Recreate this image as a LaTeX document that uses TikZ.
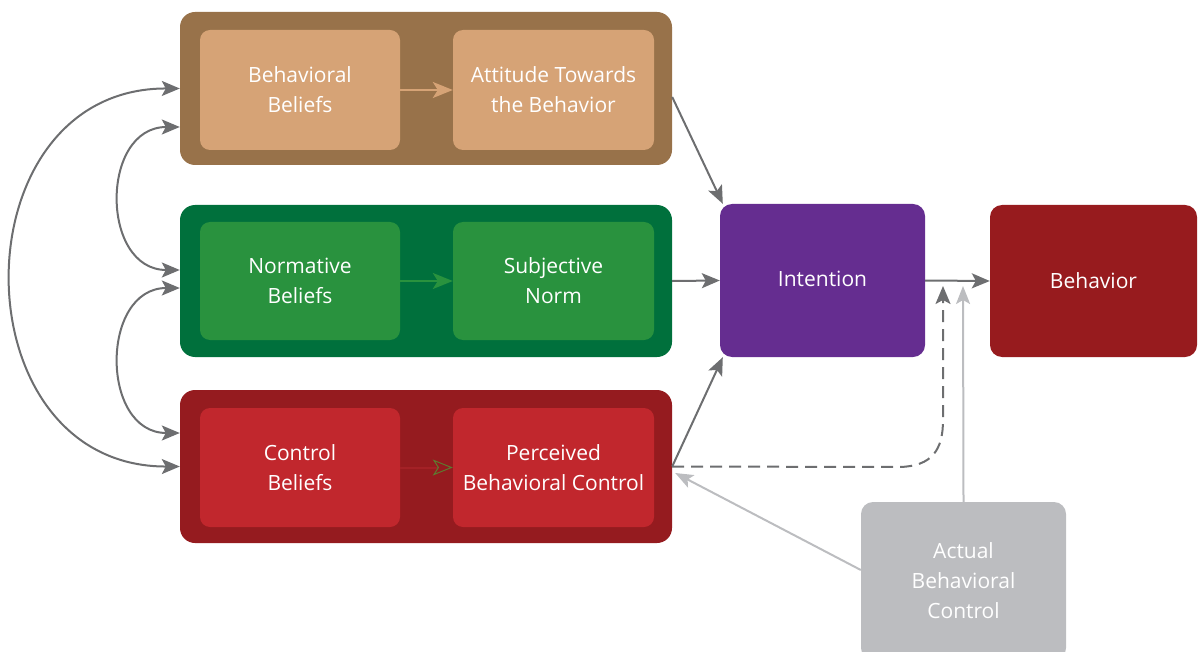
\documentclass[tikz,border=0pt]{standalone}
\usepackage{fontspec}
\setmainfont{Open Sans}
\usetikzlibrary{arrows.meta}
\definecolor{brownO}{HTML}{98724A}
\definecolor{brownI}{HTML}{D6A376}
\definecolor{greenO}{HTML}{00703C}
\definecolor{greenI}{HTML}{29923E}
\definecolor{redO}{HTML}{951B1F}
\definecolor{redI}{HTML}{C1272D}
\definecolor{purp}{HTML}{652D90}
\definecolor{behc}{HTML}{971B1E}
\definecolor{grayB}{HTML}{BCBDC0}
\definecolor{arr}{HTML}{6D6E70}
\definecolor{olivetip}{HTML}{5E7A30}
\tikzset{
  outerbox/.style={rounded corners=15pt, minimum width=492pt, minimum height=153pt, inner sep=0pt},
  innerbox/.style={rounded corners=10pt, minimum width=201pt, minimum height=120pt, inner sep=0pt,
    text=white, align=center, font=\fontsize{21}{30}\selectfont},
  bigbox/.style={rounded corners=12pt, minimum width=205pt, minimum height=153pt, inner sep=0pt,
    text=white, align=center, font=\fontsize{21}{30}\selectfont},
  conn/.style={draw=arr, line width=2pt, -{Stealth[length=18pt,width=15pt,inset=4pt]}},
  biconn/.style={draw=arr, line width=2pt, {Stealth[length=18pt,width=15pt,inset=4pt]}-{Stealth[length=18pt,width=15pt,inset=4pt]}},
  lightconn/.style={draw=grayB, line width=2pt, -{Stealth[length=18pt,width=14pt,inset=4pt]}},
  innerarr/.style={line width=2pt, -{Stealth[length=20pt,width=16pt,inset=5pt]}},
}
\begin{document}
\begin{tikzpicture}[x=1pt,y=-1pt]
\useasboundingbox (0,0) rectangle (1198,652);
% outer boxes
\node[outerbox, fill=brownO] (brown) at (426,88.5) {};
\node[outerbox, fill=greenO, minimum height=152pt] (green) at (426,281) {};
\node[outerbox, fill=redO] (red) at (426,466.5) {};
% inner boxes
\node[innerbox, fill=brownI, minimum width=200pt] (bb) at (300,90) {Behavioral\\Beliefs};
\node[innerbox, fill=brownI] (att) at (553.5,90) {Attitude Towards\\the Behavior};
\node[innerbox, fill=greenI, minimum width=200pt, minimum height=118pt] (nb) at (300,281) {Normative\\Beliefs};
\node[innerbox, fill=greenI, minimum height=118pt] (sn) at (553.5,281) {Subjective\\Norm};
\node[innerbox, fill=redI, minimum width=200pt, minimum height=119pt] (cb) at (300,467.5) {Control\\Beliefs};
\node[innerbox, fill=redI, minimum height=119pt] (pbc) at (553.5,467.5) {Perceived\\Behavioral Control};
% right boxes
\node[bigbox, fill=purp] (int) at (822.5,280.5) {\raisebox{3pt}{Intention}};
\node[bigbox, fill=behc, minimum width=207pt, minimum height=152pt] (beh) at (1093.5,281) {\raisebox{1pt}{Behavior}};
\node[bigbox, fill=grayB, minimum height=158pt] (act) at (963.5,581) {Actual\\Behavioral\\Control};
% inner arrows
\draw[innerarr, draw=brownI] (bb.east) -- (att.west);
\draw[innerarr, draw=greenI] (nb.east) -- (sn.west);
\draw[line width=2pt, draw=redI!85!black, -{Stealth[length=20pt,width=16pt,inset=5pt,color=olivetip,fill=redO,line width=1pt]}] (cb.east) -- (pbc.west);
% connectors to intention
\draw[conn] ([yshift=-8.5pt]brown.east) -- ([xshift=3pt]int.north west);
\draw[conn] (green.east) -- (int.west);
\draw[conn] (red.east) -- ([xshift=3pt]int.south west);
\draw[conn] (int.east) -- (beh.west);
% dashed PBC -> behaviour link
\coordinate (dashend) at (943,286);
\draw[conn, dash pattern=on 12pt off 7pt] (red.east) -- (900,467) .. controls (932,466) and (943,450) .. (943,420) -- (dashend);
% actual control
\coordinate (actend) at (963,286);
\draw[lightconn] (act.north) -- (actend);
\draw[lightconn] ([yshift=11pt]act.west) -- ([xshift=3pt,yshift=-6.5pt]red.east);
% left curved arrows
\draw[biconn] (brown.west) .. controls (-44,88) and (-44,467) .. (red.west);
\draw[biconn] ([yshift=-38.5pt]brown.west) .. controls (100,127) and (100,270) .. ([yshift=11pt]green.west);
\draw[biconn] ([yshift=-7pt]green.west) .. controls (100,288) and (100,433) .. ([yshift=33.5pt]red.west);
\end{tikzpicture}
\end{document}
